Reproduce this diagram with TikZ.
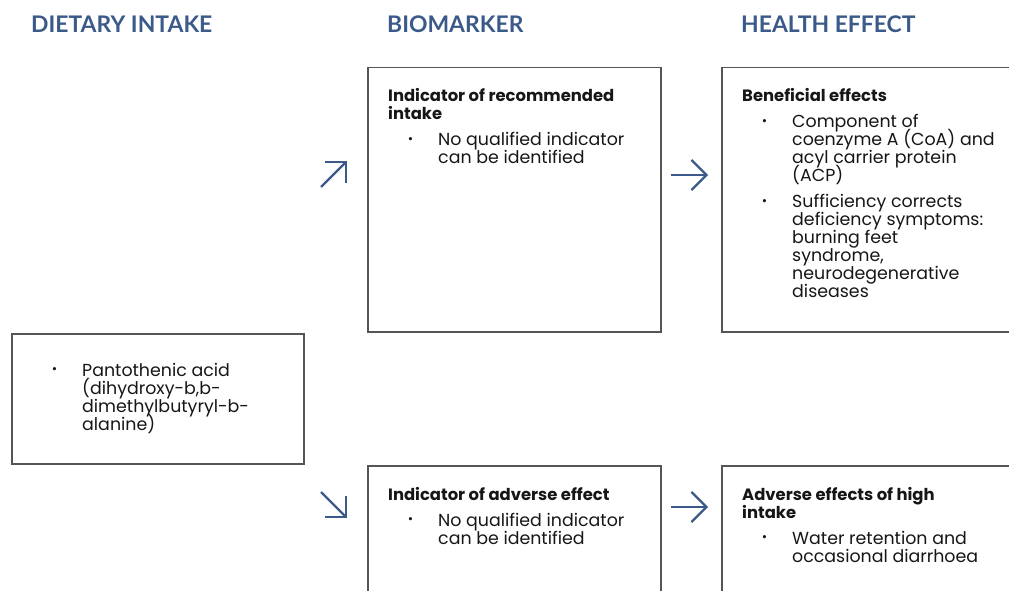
\documentclass[tikz,border=0pt]{standalone}
\usepackage{fontspec}
\setmainfont{Poppins}
\newfontfamily\headfont{Lato}
\usetikzlibrary{arrows.meta}
\definecolor{hblue}{RGB}{59,90,138}
\definecolor{boxgray}{RGB}{85,85,85}
\definecolor{txt}{RGB}{22,22,22}
\newcommand{\bodysize}{\fontsize{17.4}{18}\selectfont}
\newcommand{\titlesize}{\fontsize{16.4}{18}\selectfont}
\newcommand{\dotb}{\raisebox{2.5pt}{\fontsize{13}{13}\selectfont •}}
\newcommand{\ttl}[1]{{\titlesize\bfseries #1\par}}
\newcommand{\entry}[1]{\par\vspace{8pt}{\leftskip=50pt\noindent\llap{\dotb\hspace{25pt}}#1\par}}
\newcommand{\firstentry}[1]{{\leftskip=50pt\noindent\llap{\dotb\hspace{25pt}}#1\par}}
\newcommand{\blk}[1]{\parbox[t]{300pt}{\raggedright\bodysize\parskip=0pt\lineskiplimit=-30pt\lineskip=0pt #1}}
\tikzset{
  heading/.style={anchor=base west, inner sep=0pt, text=hblue, font=\headfont\bfseries\fontsize{22.9}{26}\selectfont},
  frame/.style={draw=boxgray, line width=1.5pt, anchor=north west, inner sep=0pt},
  textblk/.style={anchor=base west, inner sep=0pt, text=txt},
  flow/.style={draw=hblue, line width=2.2pt, -{Straight Barb[length=15pt,width=30pt,line width=2.2pt]}}
}
\begin{document}
\begin{tikzpicture}[x=1pt,y=-1pt]
\useasboundingbox (0,0) rectangle (1009,591);
% headings
\node[heading] (h1) at (31,33) {DIETARY INTAKE};
\node[heading] (h2) at (387,33) {BIOMARKER};
\node[heading] (h3) at (741,33) {HEALTH EFFECT};
% boxes
\node[frame, minimum width=293pt, minimum height=264pt] (bt) at (367,67) {};
\node[frame, minimum width=320pt, minimum height=264pt] (ht) at (721,67) {};
\node[frame, minimum width=292pt, minimum height=130pt] (di) at (11,333) {};
\node[frame, minimum width=293pt, minimum height=160pt] (bb) at (367,465) {};
\node[frame, minimum width=320pt, minimum height=160pt] (hb) at (721,465) {};
% texts
\node[textblk] (tbt) at (388,102) {\blk{\ttl{Indicator of recommended\\intake}\entry{No qualified indicator\\can be identified}}};
\node[textblk] (tht) at (742,102) {\blk{\ttl{Beneficial effects}\entry{Component of\\coenzyme A (CoA) and\\acyl carrier protein\\(ACP)}\entry{Sufficiency corrects\\deficiency symptoms:\\burning feet\\syndrome,\\neurodegenerative\\diseases}}};
\node[textblk] (tdi) at (32,376) {\blk{\firstentry{Pantothenic acid\\(dihydroxy-b,b-\\dimethylbutyryl-b-\\alanine)}}};
\node[textblk] (tbb) at (388,500) {\blk{\ttl{Indicator of adverse effect}\entry{No qualified indicator\\can be identified}}};
\node[textblk] (thb) at (742,500) {\blk{\ttl{Adverse effects of high\\intake}\entry{Water retention and\\occasional diarrhoea}}};
% arrows
\coordinate (a1s) at (321,187);
\coordinate (a1e) at (347,161);
\coordinate (a2s) at (671,175);
\coordinate (a2e) at (708,175);
\coordinate (a3s) at (321,492);
\coordinate (a3e) at (347,518);
\coordinate (a4s) at (671,507);
\coordinate (a4e) at (708,507);
\draw[flow] (a1s) -- (a1e);
\draw[flow] (a2s) -- (a2e);
\draw[flow] (a3s) -- (a3e);
\draw[flow] (a4s) -- (a4e);
\end{tikzpicture}
\end{document}
